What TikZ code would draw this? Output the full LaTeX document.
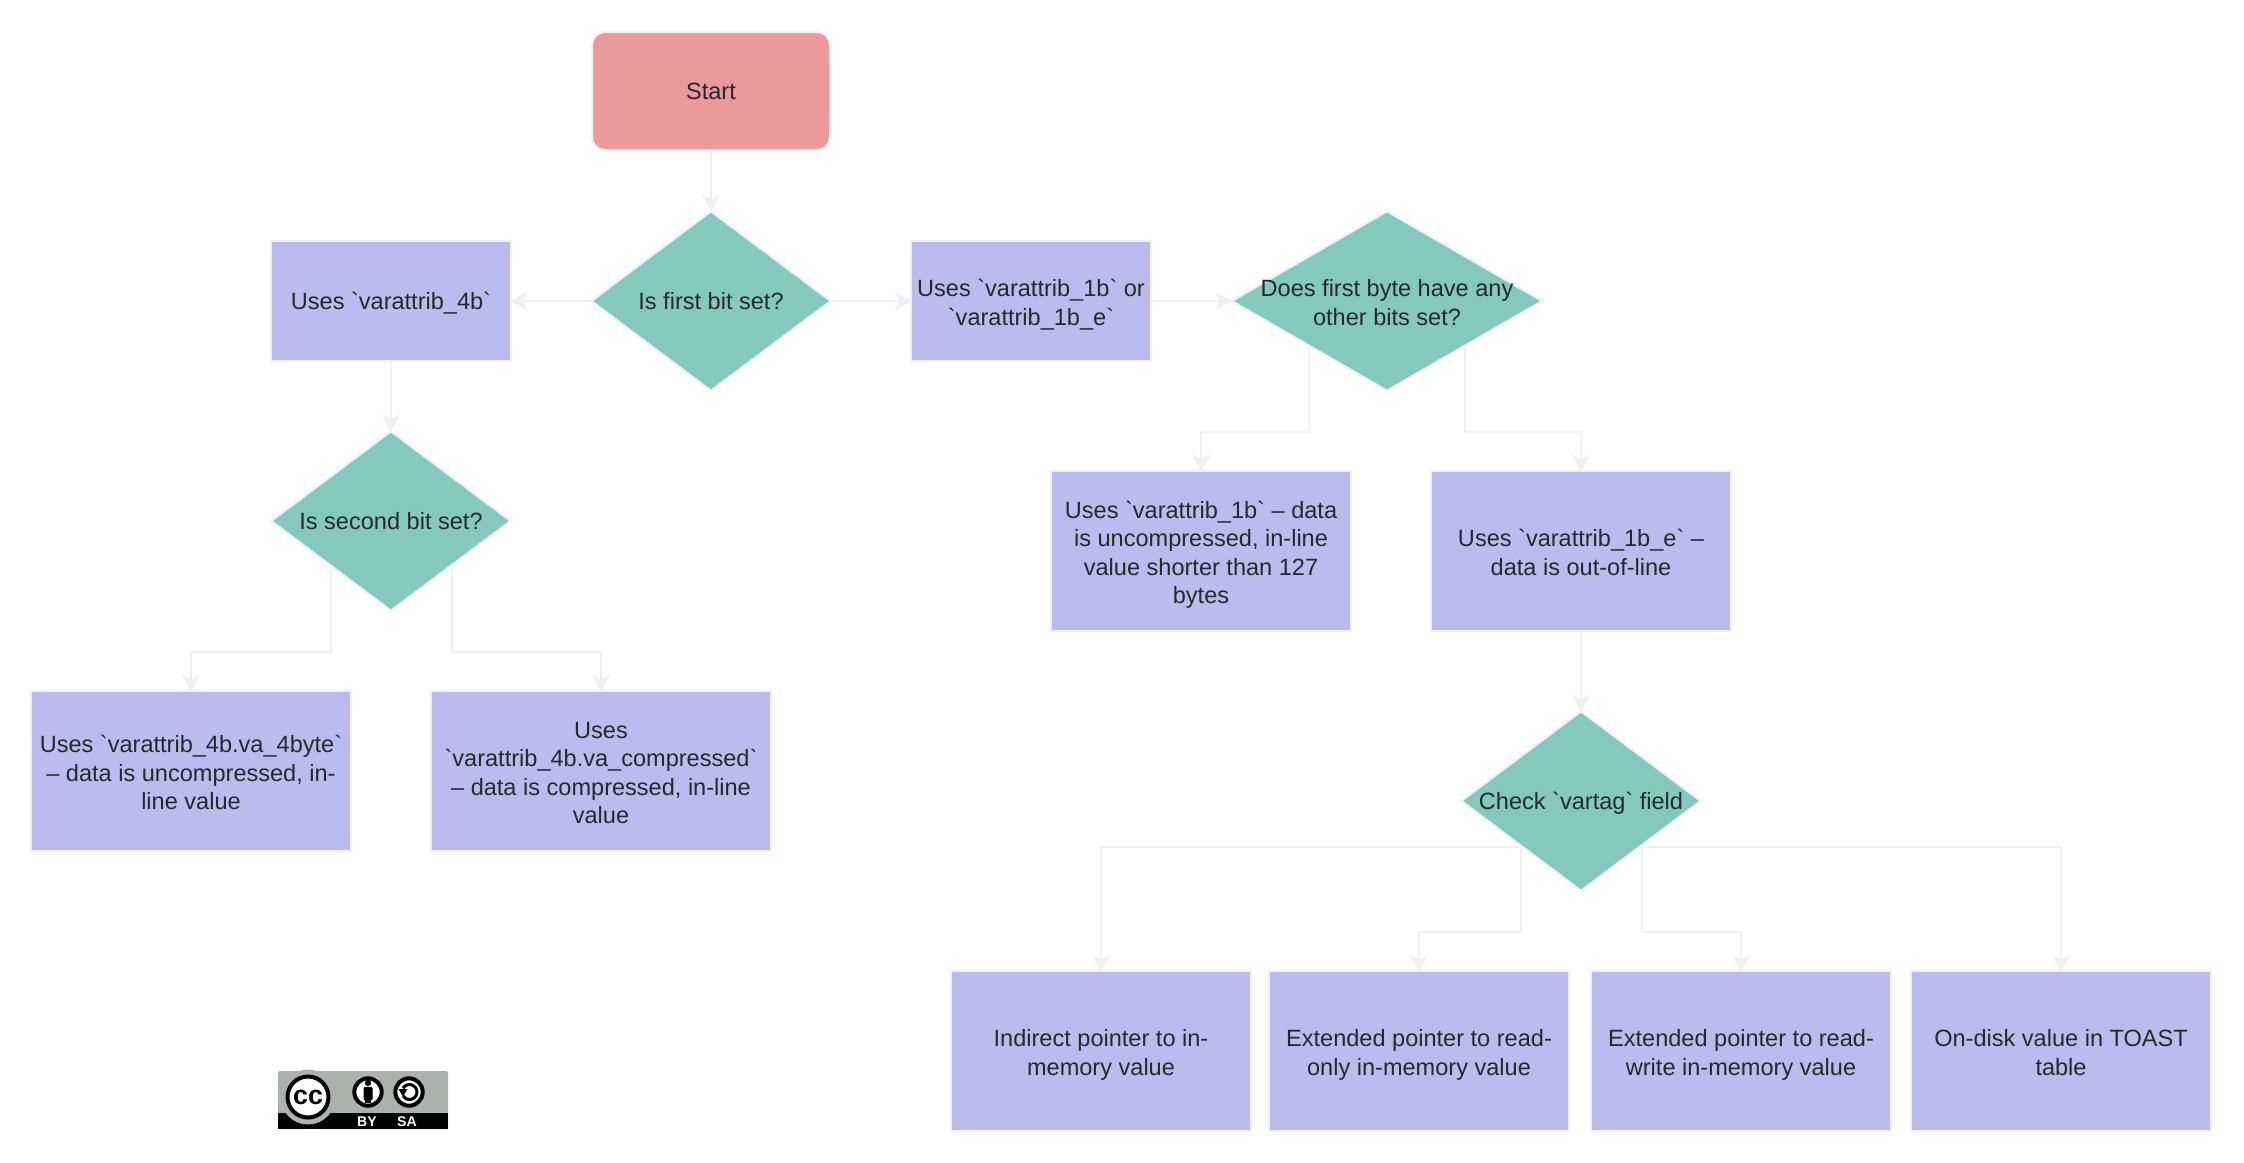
\documentclass[tikz,border=0pt]{standalone}
\usepackage{fontspec}
\setmainfont[Ligatures=TeXOff]{Liberation Sans}
\usetikzlibrary{positioning, calc, arrows.meta, shapes.geometric}
\newcommand{\vattr}[1]{`varattrib\_#1`}
\newcommand{\topstrut}{\rule{0pt}{7pt}}
\definecolor{startred}{HTML}{EC999C}
\definecolor{boxblue}{HTML}{BBBBEE}
\definecolor{diamondteal}{HTML}{83C9BD}
\definecolor{edgegrey}{HTML}{F0F0F0}
\definecolor{textdark}{HTML}{222B2B}
\definecolor{badgegrey}{HTML}{AAB2AB}
\tikzset{
  label text/.style={text=textdark, font=\fontsize{6.7}{8.1}\selectfont, align=center,
    execute at begin node=\rule{0pt}{6.2pt}, execute at end node=\rule[-1.3pt]{0pt}{1.3pt}},
  startbox/.style={label text, draw=edgegrey, line width=0.02cm, fill=startred, rounded corners=0.13cm, minimum width=2.38cm, minimum height=1.18cm},
  stepbox/.style={label text, draw=edgegrey, line width=0.02cm, fill=boxblue, inner sep=0, minimum width=#1, minimum height=1.6cm},
  stepbox/.default=3cm,
  smallbox/.style={stepbox, minimum width=2.4cm, minimum height=1.2cm},
  choice/.style={label text, draw=edgegrey, line width=0.02cm, fill=diamondteal, shape=diamond, aspect=1.34, inner sep=-6mm, minimum width=#1, minimum height=1.8cm},
  choice/.default=2.4cm,
  link/.style={draw=edgegrey, line width=0.02cm, shorten >=-0.02cm, -{Stealth[length=0.17cm, width=0.18cm, inset=0.04cm]}},
  badge text/.style={text=white, font=\bfseries\fontsize{4}{5}\selectfont, inner sep=0}
}
\begin{document}
\begin{tikzpicture}
      \useasboundingbox (0,0) rectangle (22.44,11.62);

      \node[startbox] (start) at (7.11,10.71) {Start};
      \node[choice] (firstbit) at (7.11,8.61) {Is first bit set?};
      \node[smallbox] (uses4b) at (3.91,8.61) {Uses \vattr{4b}};
      \node[smallbox] (uses1b) at (10.31,8.61) {\topstrut Uses \vattr{1b} or\\\vattr{1b\_e}};
      \node[choice=3.11cm] (otherbits) at (13.87,8.61) {\topstrut Does first byte have any\\other bits set?};

      \node[choice] (secondbit) at (3.91,6.41) {Is second bit set?};
      \node[stepbox=3.2cm] (va4byte) at (1.91,3.91) {\topstrut Uses \vattr{4b.va\_4byte}\\– data is uncompressed, in-\\line value};
      \node[stepbox=3.4cm] (vacomp) at (6.01,3.91) {\topstrut Uses\\\vattr{4b.va\_compressed}\\– data is compressed, in-line\\value};

      \node[stepbox] (inline1b) at (12.01,6.11) {\topstrut Uses \vattr{1b} – data\\is uncompressed, in-line\\value shorter than 127\\bytes};
      \node[stepbox] (outline1b) at (15.81,6.11) {\topstrut Uses \vattr{1b\_e} –\\data is out-of-line};
      \node[choice] (vartag) at (15.81,3.61) {Check `vartag` field};

      \node[stepbox] (indirect) at (11.01,1.11) {\topstrut Indirect pointer to in-\\memory value};
      \node[stepbox] (readonly) at (14.19,1.11) {\topstrut Extended pointer to read-\\only in-memory value};
      \node[stepbox] (readwrite) at (17.41,1.11) {\topstrut Extended pointer to read-\\write in-memory value};
      \node[stepbox] (ondisk) at (20.61,1.11) {\topstrut On-disk value in TOAST\\table};

      \draw[link] (node cs:name=start) -- (node cs:name=firstbit);
      \draw[link] (node cs:name=firstbit) -- (node cs:name=uses4b);
      \draw[link] (node cs:name=firstbit) -- (node cs:name=uses1b);
      \draw[link] (node cs:name=uses1b) -- (node cs:name=otherbits);
      \draw[link] (node cs:name=uses4b) -- (node cs:name=secondbit);
      \draw[link] (node cs:name=outline1b) -- (node cs:name=vartag);

      \draw[link] (secondbit.south west) -- ++(0,-0.855) -| (va4byte);
      \draw[link] (secondbit.south east) -- ++(0,-0.855) -| (vacomp);
      \draw[link] (otherbits.south west) -- ++(0,-0.855) -| (inline1b);
      \draw[link] (otherbits.south east) -- ++(0,-0.855) -| (outline1b);
      \draw[link] (vartag.south west) -| (indirect);
      \draw[link] (vartag.south west) -- ++(0,-0.855) -| (readonly);
      \draw[link] (vartag.south east) -- ++(0,-0.855) -| (readwrite);
      \draw[link] (vartag.south east) -| (ondisk);

      % licence badge
      \fill[badgegrey, rounded corners=0.02cm] (2.78,0.33) rectangle (4.48,0.91);
      \fill[black] (2.78,0.33) rectangle (4.48,0.49);
      \fill[badgegrey] (3.08,0.65) circle (0.275);
      \fill[white, draw=black, line width=0.04cm] (3.08,0.65) circle (0.205);
      \node[font=\bfseries\fontsize{7.6}{8}\selectfont, inner sep=0] (cclogo) at (3.08,0.65) {cc};
      \fill[white, draw=black, line width=0.04cm] (3.68,0.70) circle (0.137);
      \fill[black] (3.68,0.79) circle (0.032);
      \fill[black, rounded corners=0.01cm] (3.635,0.75) rectangle (3.725,0.62);
      \fill[black] (3.65,0.63) rectangle (3.71,0.59);
      \fill[white, draw=black, line width=0.04cm] (4.09,0.70) circle (0.137);
      \draw[black, line width=0.03cm] (4.03,0.7375) arc[start angle=150, end angle=-150, radius=0.075];
      \fill[black] (3.985,0.73) -- (4.075,0.73) -- (4.03,0.655) -- cycle;
      \node[badge text] (bytext) at (3.67,0.40) {BY};
      \node[badge text] (satext) at (4.07,0.40) {SA};
    \end{tikzpicture}
\end{document}
